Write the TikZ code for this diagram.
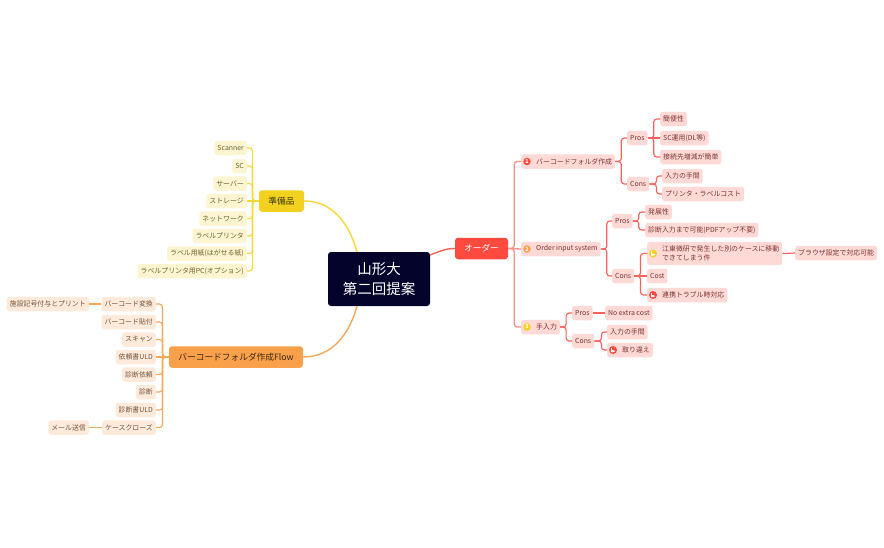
\documentclass[tikz,border=0pt]{standalone}
\usepackage{xcolor}
\usepackage{fontspec}
\setmainfont{Noto Sans CJK JP}
\definecolor{rootbg}{HTML}{03032B}
\definecolor{redbg}{HTML}{FF4A40}
\definecolor{redln}{HTML}{FF625A}
\definecolor{redsp}{HTML}{FF8F88}
\definecolor{redlf}{HTML}{FFD9D6}
\definecolor{redtx}{HTML}{7A3632}
\definecolor{yelbg}{HTML}{F3D21F}
\definecolor{yelln}{HTML}{F8D835}
\definecolor{yellf}{HTML}{FDF5D2}
\definecolor{yeltx}{HTML}{6E622A}
\definecolor{orabg}{HTML}{F9A04A}
\definecolor{oraln}{HTML}{FBA75A}
\definecolor{oralf}{HTML}{FDEADB}
\definecolor{oratx}{HTML}{73563A}
\tikzset{
	x=1pt,y=-1pt,
	leaf/.style={rounded corners=2.5pt,inner xsep=3pt,inner ysep=0pt,minimum height=14.5pt,font=\fontsize{6.9}{8.6}\selectfont},
	rleaf/.style={leaf,fill=redlf,text=redtx,anchor=west},
	yleaf/.style={leaf,fill=yellf,text=yeltx,anchor=east},
	oleaf/.style={leaf,fill=oralf,text=oratx,anchor=east},
	branch/.style={rounded corners=3pt,inner xsep=0pt,inner ysep=0pt,minimum height=21.5pt,font=\fontsize{8.7}{10}\selectfont},
	rlink/.style={draw=redln,line width=1.15pt,rounded corners=3pt},
	rspine/.style={draw=redsp,line width=1.3pt,rounded corners=3pt},
	ylink/.style={draw=yelln,line width=1.15pt,rounded corners=3pt},
	olink/.style={draw=oraln,line width=1.15pt,rounded corners=3pt},
	nummark/.style={circle,fill=#1,text=white,inner sep=0pt,minimum size=7.5pt,font=\fontsize{5.4}{6}\selectfont\bfseries},
	flagmark/.style={circle,fill=#1,inner sep=0pt,minimum size=8pt,path picture={
		\fill[white] ([shift={(-1.6pt,-2.4pt)}]path picture bounding box.center) rectangle ++(0.8pt,4.8pt);
		\fill[white] ([shift={(-0.8pt,-2.4pt)}]path picture bounding box.center) -- ++(3.2pt,1.3pt) -- ++(-3.2pt,1.3pt) -- cycle;}},
}
\begin{document}
\begin{tikzpicture}
	\useasboundingbox (0,0) rectangle (884,547);
	% centre and main branches
	\node[fill=rootbg,text=white,rounded corners=3pt,minimum width=102pt,minimum height=54pt,inner sep=0pt,align=center,font=\fontsize{14.5}{20}\selectfont] (root) at (379,279) {山形大\\第二回提案};
	\node[branch,fill=redbg,text=white,minimum width=53pt] (order) at (481.5,248.5) {オーダー};
	\node[branch,fill=yelbg,text=black!75!yelbg,minimum width=45pt] (prep) at (281.5,201) {準備品};
	\node[branch,fill=orabg,text=black!75!orabg,minimum width=134pt] (flow) at (236,357) {バーコードフォルダ作成Flow};
	\coordinate (rootn) at (357,252);
	\coordinate (roots) at (357,306);
	\coordinate (roote) at (430,255);
	\draw[draw=yelln,line width=1.4pt] (prep.east) to[out=0,in=105] (rootn);
	\draw[draw=oraln,line width=1.4pt] (flow.east) to[out=0,in=-105] (roots);
	\draw[draw=redln,line width=1.4pt] (roote) to[out=20,in=180] (order.west);

	% yellow leaves
	\node[yleaf] (scanner) at (247,148) {Scanner};
	\node[yleaf] (sc) at (247,166) {SC};
	\node[yleaf] (server) at (247,183.5) {サーバー};
	\node[yleaf] (storage) at (247,201) {ストレージ};
	\node[yleaf] (network) at (247,218.5) {ネットワーク};
	\node[yleaf] (printer) at (247,236) {ラベルプリンタ};
	\node[yleaf] (paper) at (247,253.5) {ラベル用紙(はがせる紙)};
	\node[yleaf] (printpc) at (247,271) {ラベルプリンタ用PC(オプション)};
	\draw[ylink] (prep.west) -- ++(-6.3,0) |- (scanner.east);
	\draw[ylink] (prep.west) -- ++(-6.3,0) |- (sc.east);
	\draw[ylink] (prep.west) -- ++(-6.3,0) |- (server.east);
	\draw[ylink] (prep.west) -- (storage.east);
	\draw[ylink] (prep.west) -- ++(-6.3,0) |- (network.east);
	\draw[ylink] (prep.west) -- ++(-6.3,0) |- (printer.east);
	\draw[ylink] (prep.west) -- ++(-6.3,0) |- (paper.east);
	\draw[ylink] (prep.west) -- ++(-6.3,0) |- (printpc.east);

	% orange leaves
	\node[oleaf] (convert) at (156,304) {バーコード変換};
	\node[oleaf] (stick) at (156,322) {バーコード貼付};
	\node[oleaf] (scan) at (156,339.5) {スキャン};
	\node[oleaf] (requpload) at (156,357) {依頼書ULD};
	\node[oleaf] (request) at (156,374.5) {診断依頼};
	\node[oleaf] (diag) at (156,392) {診断};
	\node[oleaf] (repupload) at (156,410) {診断書ULD};
	\node[oleaf] (close) at (156,427.5) {ケースクローズ};
	\node[oleaf] (facility) at (89,304) {施設記号付与とプリント};
	\node[oleaf] (mail) at (89,427.5) {メール送信};
	\draw[olink] (flow.west) -- ++(-6.3,0) |- (convert.east);
	\draw[olink] (flow.west) -- ++(-6.3,0) |- (stick.east);
	\draw[olink] (flow.west) -- ++(-6.3,0) |- (scan.east);
	\draw[olink] (flow.west) -- (requpload.east);
	\draw[olink] (flow.west) -- ++(-6.3,0) |- (request.east);
	\draw[olink] (flow.west) -- ++(-6.3,0) |- (diag.east);
	\draw[olink] (flow.west) -- ++(-6.3,0) |- (repupload.east);
	\draw[olink] (flow.west) -- ++(-6.3,0) |- (close.east);
	\draw[olink] (convert.west) -- (facility.east);
	\draw[olink] (close.west) -- (mail.east);

	% red side, first level
	\node[rleaf] (barcode) at (521,161.5) {\hspace{12pt}バーコードフォルダ作成};
	\node[rleaf] (input) at (521,249) {\hspace{12pt}Order input system};
	\node[rleaf] (manual) at (521,327) {\hspace{12pt}手入力};
	\node[nummark=redbg] (num1) at (527,161.5) {1};
	\node[nummark=orabg] (num2) at (527,249) {2};
	\node[nummark=yelbg] (num3) at (527,327) {3};
	\draw[rspine] (order.east) -- ++(6,0) |- (barcode.west);
	\draw[rspine] (order.east) -- (input.west);
	\draw[rspine] (order.east) -- ++(6,0) |- (manual.west);

	% barcode folder
	\node[rleaf] (pros1) at (627,138) {Pros};
	\node[rleaf] (cons1) at (627,184) {Cons};
	\node[rleaf] (ease) at (660,119) {簡便性};
	\node[rleaf] (scuse) at (660,138) {SC運用(DL等)};
	\node[rleaf] (connect) at (660,157) {接続先増減が簡単};
	\node[rleaf] (effort1) at (662,176) {入力の手間};
	\node[rleaf] (labelcost) at (662,194) {プリンタ・ラベルコスト};
	\draw[rlink] (barcode.east) -- ++(6,0) |- (pros1.west);
	\draw[rlink] (barcode.east) -- ++(6,0) |- (cons1.west);
	\draw[rlink] (pros1.east) -- ++(6,0) |- (ease.west);
	\draw[rlink] (pros1.east) -- (scuse.west);
	\draw[rlink] (pros1.east) -- ++(6,0) |- (connect.west);
	\draw[rlink] (cons1.east) -- ++(7,0) |- (effort1.west);
	\draw[rlink] (cons1.east) -- ++(7,0) |- (labelcost.west);

	% order input system
	\node[rleaf] (pros2) at (612,221) {Pros};
	\node[rleaf] (cons2) at (612,276) {Cons};
	\node[rleaf] (growth) at (645,212) {発展性};
	\node[rleaf] (nopdf) at (645,230) {診断入力まで可能(PDFアップ不要)};
	\node[rleaf,align=left,minimum height=23pt] (koto) at (647,253.5) {\hspace{12pt}\parbox[c]{117pt}{江東微研で発生した別のケースに移動\\できてしまう件}};
	\node[rleaf] (cost) at (647,276) {Cost};
	\node[rleaf] (trouble) at (647,295) {\hspace{12pt}連携トラブル時対応};
	\node[flagmark=yelbg] (flag1) at (653,253.5) {};
	\node[flagmark=redbg] (flag2) at (653,295) {};
	\node[rleaf] (browser) at (795,253) {ブラウザ設定で対応可能};
	\draw[rlink] (input.east) -- ++(6,0) |- (pros2.west);
	\draw[rlink] (input.east) -- ++(6,0) |- (cons2.west);
	\draw[rlink] (pros2.east) -- ++(6,0) |- (growth.west);
	\draw[rlink] (pros2.east) -- ++(6,0) |- (nopdf.west);
	\draw[rlink] (cons2.east) -- ++(6,0) |- (koto.west);
	\draw[rlink] (cons2.east) -- (cost.west);
	\draw[rlink] (cons2.east) -- ++(6,0) |- (trouble.west);
	\draw[rlink] (koto.east) -- (browser.west);

	% manual input
	\node[rleaf] (pros3) at (572,313) {Pros};
	\node[rleaf] (cons3) at (572,341) {Cons};
	\node[rleaf] (noextra) at (605,313) {No extra cost};
	\node[rleaf] (effort2) at (607,332) {入力の手間};
	\node[rleaf] (mixup) at (607,350) {\hspace{12pt}取り違え};
	\node[flagmark=redbg] (flag3) at (613,350) {};
	\draw[rlink] (manual.east) -- ++(6,0) |- (pros3.west);
	\draw[rlink] (manual.east) -- ++(6,0) |- (cons3.west);
	\draw[rlink] (pros3.east) -- (noextra.west);
	\draw[rlink] (cons3.east) -- ++(7,0) |- (effort2.west);
	\draw[rlink] (cons3.east) -- ++(7,0) |- (mixup.west);
\end{tikzpicture}
\end{document}
